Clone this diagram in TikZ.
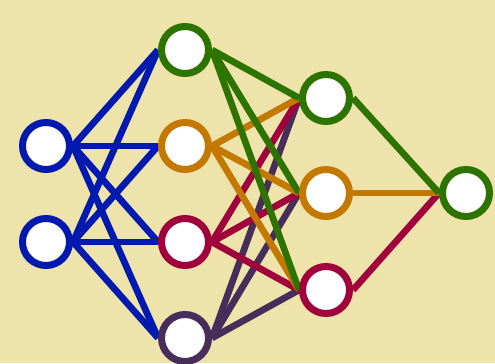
\documentclass[tikz,border=0pt]{standalone}
\usepackage{xcolor}
\usepackage{tikz}
\usetikzlibrary{backgrounds}

\definecolor{paper}{RGB}{238,227,170}
\definecolor{nblue}{RGB}{0,25,175}
\definecolor{ngreen}{RGB}{45,115,0}
\definecolor{norange}{RGB}{195,120,0}
\definecolor{ncrimson}{RGB}{160,0,60}
\definecolor{npurple}{RGB}{70,45,90}

\begin{document}
\begin{tikzpicture}[x=0.3mm,y=-0.3mm,
  neuron/.style={circle,draw=#1,fill=white,line width=2.1mm,
    minimum size=14.1mm,inner sep=0pt},
  wire/.style={draw=#1,line width=2mm}]
  \useasboundingbox (0,0) rectangle (495,363);
  % input layer
  \node[neuron=nblue] (i1) at (46,146) {};
  \node[neuron=nblue] (i2) at (46,242) {};
  % first hidden layer
  \node[neuron=ngreen]    (a1) at (185,50) {};
  \node[neuron=norange]   (a2) at (185,146) {};
  \node[neuron=ncrimson]  (a3) at (185,242) {};
  \node[neuron=npurple]   (a4) at (185,338) {};
  % second hidden layer
  \node[neuron=ngreen]    (b1) at (326,98) {};
  \node[neuron=norange]   (b2) at (326,193) {};
  \node[neuron=ncrimson]  (b3) at (326,290) {};
  % output
  \node[neuron=ngreen]    (o)  at (466,193) {};
  \begin{scope}[on background layer]
    \fill[paper] (0,0) rectangle (495,363);
    \foreach \s in {i1,i2}
      \foreach \t in {a1,a2,a3,a4}
        \draw[wire=nblue] (\s.east) -- (\t.west);
    \foreach \s/\c in {a4/npurple,a3/ncrimson,a2/norange,a1/ngreen}
      \foreach \t in {b1,b2,b3}
        \draw[wire=\c] (\s.east) -- (\t.west);
    \foreach \s/\c in {b3/ncrimson,b2/norange,b1/ngreen}
      \draw[wire=\c] (\s.east) -- (o.west);
  \end{scope}
\end{tikzpicture}
\end{document}
